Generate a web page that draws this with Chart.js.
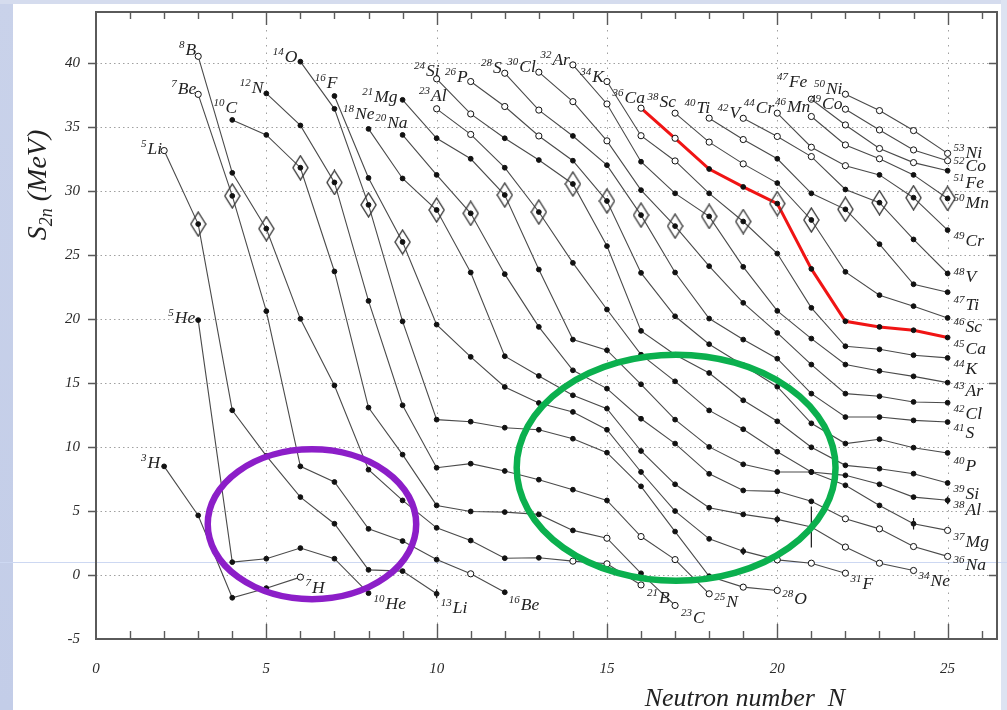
<!DOCTYPE html>
<html>
<head>
<meta charset="utf-8">
<script src="https://cdn.jsdelivr.net/npm/chart.js@4.4.1/dist/chart.umd.min.js"></script>
<style>
html,body{margin:0;padding:0;background:#fff;overflow:hidden}
canvas{display:block}
</style>
</head>
<body>
<canvas id="c" width="1007" height="710"></canvas>
<script>
// ---------------- data ----------------
const symbols = ['H','He','Li','Be','B','C','N','O','F','Ne','Na','Mg','Al','Si','P','S','Cl','Ar','K','Ca','Sc','Ti','V','Cr','Mn','Fe','Co','Ni'];
// neutron number of the first (lightest) isotope of each chain, Z = 1..28
const firstN = [2,3,2,3,3,4,5,6,7,8,9,9,10,10,11,12,13,14,15,16,17,18,19,20,21,21,22,22];

// two-neutron separation energies S2n (MeV), consecutive N from firstN
const S2n_H  = [8.48, 4.65, -1.78, -1.03, -0.17];
const S2n_He = [19.9, 1.0, 1.27, 2.1, 1.27, -1.42];
const S2n_Li = [33.14, 27.4, 12.86, 9.3, 6.08, 4.0, 0.4, 0.3, -1.47];
const S2n_Be = [37.53, 29.6, 20.6, 8.48, 7.26, 3.6, 2.65, 1.2, 0.09, -1.35];
const S2n_B  = [40.5, 31.4, 27.04, 20.0, 14.8, 8.22, 5.82, 3.68, 2.69, 1.31, 1.34, 1.08, 0.87, -0.78];
const S2n_C  = [35.53, 34.36, 31.8, 23.7, 13.07, 9.4, 5.43, 4.96, 4.91, 4.73, 3.48, 2.87, 0.13, -2.38];
const S2n_N  = [37.6, 35.1, 30.65, 21.4, 13.25, 8.37, 8.69, 8.12, 7.44, 6.66, 5.82, 3.0, 1.2, -1.47];
const S2n_O  = [40.08, 36.4, 28.9, 19.8, 12.13, 11.97, 11.5, 11.34, 10.64, 9.55, 6.92, 3.39, -0.1, -0.95, -1.21];
const S2n_F  = [37.4, 31.0, 26.0, 19.55, 17.03, 14.68, 13.43, 12.73, 11.34, 8.04, 4.99, 2.82, 1.86, 1.18, 0.92, 0.14];
const S2n_Ne = [34.83, 30.96, 28.5, 23.62, 17.08, 15.54, 14.03, 12.99, 9.68, 7.08, 5.25, 4.73, 4.34, 3.74, 2.18, 0.92, 0.35];
const S2n_Na = [34.36, 31.24, 28.24, 23.49, 19.37, 15.98, 14.55, 12.2, 10.26, 7.9, 6.6, 6.53, 5.75, 4.39, 3.6, 2.22, 1.45];
const S2n_Mg = [37.1, 34.1, 32.5, 29.67, 23.85, 18.38, 17.55, 14.89, 12.13, 10.0, 8.64, 8.04, 8.04, 7.0, 5.43, 4.0, 3.48];
const S2n_Al = [36.4, 34.4, 31.8, 28.34, 24.37, 20.73, 17.2, 15.12, 12.85, 11.38, 9.62, 8.04, 7.78, 7.08, 6.08, 5.83];
const S2n_Si = [38.74, 36.0, 34.1, 32.4, 30.53, 25.68, 19.06, 17.2, 15.77, 13.64, 12.0, 9.97, 8.56, 8.3, 7.91, 7.18];
const S2n_P  = [38.53, 36.58, 34.28, 32.35, 29.2, 23.59, 20.2, 18.02, 16.38, 14.7, 11.84, 10.26, 10.6, 9.94, 9.53];
const S2n_S  = [39.18, 36.3, 34.28, 32.0, 28.1, 23.62, 20.02, 18.38, 16.89, 14.16, 12.33, 12.33, 12.07, 11.94];
const S2n_Cl = [39.26, 36.96, 33.9, 30.05, 27.24, 24.11, 21.25, 18.9, 16.43, 14.16, 13.95, 13.51, 13.45];
const S2n_Ar = [39.83, 36.78, 32.27, 29.8, 28.0, 24.06, 20.62, 18.46, 16.43, 15.93, 15.51, 15.02];
const S2n_K  = [38.53, 34.3, 32.33, 29.8, 27.6, 25.1, 20.86, 17.86, 17.62, 17.16, 16.95];
const S2n_Ca = [36.45, 34.1, 31.7, 30.3, 29.0, 23.9, 19.81, 19.37, 19.11, 18.54];
const S2n_Sc = [36.06, 33.8, 32.1, 30.6, 27.72, 23.67, 21.85, 20.99, 20.07];
const S2n_Ti = [35.67, 34.0, 32.5, 29.8, 28.55, 25.83, 22.7, 22.08];
const S2n_V  = [35.66, 34.24, 32.67, 30.1, 29.07, 26.2, 23.54];
const S2n_Cr = [36.06, 33.4, 31.96, 31.24, 29.46, 26.93];
const S2n_Mn = [35.8, 33.58, 32.5, 31.24, 29.4];
const S2n_Fe = [37.15, 35.14, 33.3, 32.2, 31.57];
const S2n_Co = [36.37, 34.75, 33.19, 32.35];
const S2n_Ni = [37.54, 36.26, 34.7, 32.92];

const chains = [S2n_H,S2n_He,S2n_Li,S2n_Be,S2n_B,S2n_C,S2n_N,S2n_O,S2n_F,S2n_Ne,S2n_Na,S2n_Mg,S2n_Al,S2n_Si,
                S2n_P,S2n_S,S2n_Cl,S2n_Ar,S2n_K,S2n_Ca,S2n_Sc,S2n_Ti,S2n_V,S2n_Cr,S2n_Mn,S2n_Fe,S2n_Co,S2n_Ni];

// estimated (open-circle) points as [Z, N]
const estimatedPoints = [[1,6],[3,2],[4,3],[4,11],[5,3],[5,14],[5,15],[5,16],[6,15],[6,17],[7,16],[7,17],[7,18],
  [8,19],[8,20],[9,20],[9,21],[9,22],[10,22],[10,23],[10,24],[11,22],[11,23],[11,24],[11,25],[12,25],
  [13,10],[13,11],[14,10],[14,11],[15,11],[15,12],[15,13],[16,12],[16,13],[17,13],[17,14],[17,15],
  [18,14],[18,15],[19,15],[19,16],[19,17],[20,16],[20,17],[21,17],[21,18],[21,19],[22,18],[22,19],
  [23,19],[23,20],[23,21],[24,20],[24,21],[24,22],[25,21],[25,22],[25,23],[26,21],[26,22],[26,23],[26,24],
  [27,22],[27,23],[27,24],[27,25],[28,22],[28,23],[28,24],[28,25]];

// vertical uncertainty bars [Z, N, +/- MeV]
const errorBars = [[3,10,0.35],[9,19,0.3],[10,20,0.3],[10,21,1.6],[12,24,0.45],[13,25,0.3]];

const highlightZ = 20;       // Ca chain drawn in red
const xTickValues = [0,5,10,15,20,25];
const yTickValues = [-5,0,5,10,15,20,25,30,35,40];
const xMinor = [1,2,3,4,5,6,7,8,9,10,11,12,13,14,15,16,17,18,19,20,21,22,23,24,25,26];

// annotation ellipses in data units
const ellipseNotes = [
  {cx: 6.34, cy: 3.96, rx: 3.06, ry: 5.85, color: '#8c1ec8'},
  {cx: 17.03, cy: 8.37, rx: 4.68, ry: 8.83, color: '#0bb04e'}
];

// ---------------- layout / style ----------------
const SERIF = '"Liberation Serif","Times New Roman",serif';
const startNudge = {H:[-4,-4],He:[-3,-3],Li:[-2,-3],C:[5,-13],F:[3,-14],Ne:[6,-16],Na:[5,-13],Al:[10,-14],Si:[3,-9],
                    Ca:[4,-11],Sc:[1,-12],Ti:[1,-11],Mn:[-1,-11],Fe:[-4,-18],Mg:[-5,-4],Be:[-2,-6],B:[-2,-7]};
const endNudge = {Ni:[6,-1],Co:[6,4],Mn:[6,4],V:[6,2],Ar:[6,7],N:[5,7],O:[5,8],Na:[6,8],Li:[4,13],Be:[4,12],B:[6,12],C:[6,12],
                  Fe:[6,11],Cr:[6,10],Ti:[6,12],Sc:[6,8],Ca:[6,10],K:[6,10],Cl:[6,10],S:[6,10],P:[6,12],Si:[6,10],Al:[6,9],Mg:[6,11]};

const estSet = new Set(estimatedPoints.map(p => p[0] + ':' + p[1]));
const isEst = (Z, N) => estSet.has(Z + ':' + N);

// rhombus marker used for N = Z
const rh = document.createElement('canvas');
rh.width = 17; rh.height = 26;
(function(){
  const g = rh.getContext('2d');
  g.strokeStyle = '#3c3c3c'; g.lineWidth = 1.4;
  g.beginPath(); g.moveTo(8.5,1); g.lineTo(16,13); g.lineTo(8.5,25); g.lineTo(1,13); g.closePath(); g.stroke();
})();

const datasets = chains.map((vals, i) => {
  const Z = i + 1;
  const red = Z === highlightZ;
  return {
    type: 'scatter', showLine: true,
    data: vals.map((v, k) => ({x: firstN[i] + k, y: v})),
    borderColor: red ? '#f01414' : '#4a4a4a',
    borderWidth: red ? 3 : 1.1,
    pointRadius: c => (c.raw && isEst(Z, c.raw.x)) ? 3.1 : 2.4,
    pointBackgroundColor: c => (c.raw && isEst(Z, c.raw.x)) ? '#ffffff' : '#111111',
    pointBorderColor: '#111111',
    pointBorderWidth: 1,
    tension: 0,
    order: red ? 1 : 2
  };
});
// diamonds at N = Z
const diamondData = [];
chains.forEach((vals, i) => {
  const Z = i + 1, k = Z - firstN[i];
  if (k >= 0 && k < vals.length) diamondData.push({x: Z, y: vals[k]});
});
datasets.push({type:'scatter', data: diamondData, pointStyle: rh, pointRadius: 9, showLine:false, order: 0});

function drawNuclide(ctx, A, sym, xRef, center, align){
  const fa = 'italic 11px ' + SERIF, fs = 'italic 17.5px ' + SERIF;
  ctx.font = fa; const wa = ctx.measureText(String(A)).width;
  ctx.font = fs; const ws = ctx.measureText(sym).width;
  const total = wa + 1 + ws;
  const x0 = align === 'right' ? xRef - total : xRef;
  const base = center + 6;
  ctx.font = fa; ctx.fillText(String(A), x0, base - 7);
  ctx.font = fs; ctx.fillText(sym, x0 + wa + 1, base);
}

const decor = {
  id: 'decor',
  beforeDraw(chart){
    const c = chart.ctx, W = chart.width, H = chart.height;
    c.save();
    c.fillStyle = '#ffffff'; c.fillRect(0,0,W,H);
    const g = c.createLinearGradient(0,0,0,H);
    g.addColorStop(0,'#c9d2ea'); g.addColorStop(1,'#c3cde8');
    c.fillStyle = g; c.fillRect(0,0,13,H);
    c.fillStyle = '#d5dcee'; c.fillRect(0,0,W,4);
    c.fillStyle = '#dde3f2'; c.fillRect(W-6,0,6,H);
    c.strokeStyle = '#cdd8f2'; c.lineWidth = 1;
    c.beginPath(); c.moveTo(0,562.5); c.lineTo(W,562.5); c.stroke();
    c.restore();
  },
  beforeDatasetsDraw(chart){
    const {ctx:c, chartArea:a, scales:{x,y}} = chart;
    c.save();
    c.strokeStyle = '#a0a0a0'; c.lineWidth = 1;
    c.setLineDash([1.5,3]);
    yTickValues.forEach(v => { if (v <= -5) return;
      const py = Math.round(y.getPixelForValue(v)) + 0.5;
      c.beginPath(); c.moveTo(a.left, py); c.lineTo(a.right, py); c.stroke(); });
    c.setLineDash([1.5,6]);
    xTickValues.forEach(v => { if (v <= 0) return;
      const px = Math.round(x.getPixelForValue(v)) + 0.5;
      c.beginPath(); c.moveTo(px, a.bottom); c.lineTo(px, a.top); c.stroke(); });
    c.setLineDash([]);
    // frame
    c.strokeStyle = '#5a5a5a'; c.lineWidth = 2;
    c.strokeRect(a.left, a.top, a.right - a.left, a.bottom - a.top);
    // ticks
    c.lineWidth = 1.4; c.beginPath();
    xMinor.forEach(v => {
      const px = Math.round(x.getPixelForValue(v)) + 0.5;
      const lb = v % 5 === 0 ? 15 : 8, lt = v % 5 === 0 ? 13 : 7;
      c.moveTo(px, a.bottom); c.lineTo(px, a.bottom - lb);
      c.moveTo(px, a.top); c.lineTo(px, a.top + lt);
    });
    yTickValues.forEach(v => {
      const py = Math.round(y.getPixelForValue(v)) + 0.5;
      if (v > -5) { c.moveTo(a.left - 8, py); c.lineTo(a.left, py); c.moveTo(a.right, py); c.lineTo(a.right - 8, py); }
    });
    c.stroke();
    c.restore();
  },
  afterDatasetsDraw(chart){
    const {ctx:c, scales:{x,y}} = chart;
    c.save();
    // uncertainty bars
    c.strokeStyle = '#1a1a1a'; c.lineWidth = 1.2;
    errorBars.forEach(([Z,N,e]) => {
      const v = chains[Z-1][N - firstN[Z-1]];
      const px = x.getPixelForValue(N);
      c.beginPath(); c.moveTo(px, y.getPixelForValue(v + e)); c.lineTo(px, y.getPixelForValue(v - e)); c.stroke();
    });
    // ellipses
    ellipseNotes.forEach(e => {
      const cx = x.getPixelForValue(e.cx), cy = y.getPixelForValue(e.cy);
      const rx = Math.abs(x.getPixelForValue(e.cx + e.rx) - cx), ry = Math.abs(y.getPixelForValue(e.cy + e.ry) - cy);
      c.strokeStyle = e.color; c.lineWidth = 6.5;
      c.beginPath(); c.ellipse(cx, cy, rx, ry, 0, 0, Math.PI*2); c.stroke();
    });
    // nuclide labels
    c.fillStyle = '#222'; c.textBaseline = 'alphabetic'; c.textAlign = 'left';
    chains.forEach((vals, i) => {
      const Z = i + 1, sym = symbols[i];
      const n0 = firstN[i], n1 = n0 + vals.length - 1;
      const s = startNudge[sym] || [-3,-6];
      drawNuclide(c, Z + n0, sym, x.getPixelForValue(n0) + s[0], y.getPixelForValue(vals[0]) + s[1], 'right');
      const e = endNudge[sym] || [5,10];
      drawNuclide(c, Z + n1, sym, x.getPixelForValue(n1) + e[0], y.getPixelForValue(vals[vals.length-1]) + e[1], 'left');
    });
    c.restore();
  },
  afterDraw(chart){
    const {ctx:c, scales:{x}} = chart;
    c.save();
    c.fillStyle = '#222';
    // x title
    c.font = 'italic 26px ' + SERIF; c.textAlign = 'center'; c.textBaseline = 'alphabetic';
    c.fillText('Neutron number  N', x.getPixelForValue(19.05), 706);
    // y title (rotated)
    c.translate(46, 185); c.rotate(-Math.PI/2);
    const f1 = 'italic 28px ' + SERIF, f2 = 'italic 18px ' + SERIF;
    c.font = f1; const wS = c.measureText('S').width; const wR = c.measureText(' (MeV)').width;
    c.font = f2; const w2 = c.measureText('2n').width;
    let x0 = -(wS + w2 + wR) / 2;
    c.textAlign = 'left';
    c.font = f1; c.fillText('S', x0, 0);
    c.font = f2; c.fillText('2n', x0 + wS, 6);
    c.font = f1; c.fillText(' (MeV)', x0 + wS + w2, 0);
    c.restore();
  }
};

new Chart(document.getElementById('c'), {
  data: { datasets },
  options: {
    responsive: false, animation: false,
    layout: { padding: { left: 0, right: 9, top: 12, bottom: 0 } },
    plugins: { legend: { display: false }, tooltip: { enabled: false } },
    scales: {
      x: {
        type: 'linear', min: 0, max: 26.45,
        afterFit: s => { s.height = 71; s.paddingLeft = 0; s.paddingRight = 0; },
        afterBuildTicks: s => { s.ticks = xTickValues.map(v => ({value: v})); },
        grid: { display: false, drawTicks: false }, border: { display: false },
        ticks: { font: { family: SERIF, style: 'italic', size: 15 }, color: '#2a2a2a', padding: 21, maxRotation: 0, autoSkip: false }
      },
      y: {
        type: 'linear', min: -5, max: 43.96,
        afterFit: s => { s.width = 96; s.paddingTop = 0; s.paddingBottom = 0; },
        afterBuildTicks: s => { s.ticks = yTickValues.map(v => ({value: v})); },
        grid: { display: false, drawTicks: false }, border: { display: false },
        ticks: { font: { family: SERIF, style: 'italic', size: 15 }, color: '#2a2a2a', padding: 16, autoSkip: false }
      }
    }
  },
  plugins: [decor]
});
</script>
</body>
</html>
